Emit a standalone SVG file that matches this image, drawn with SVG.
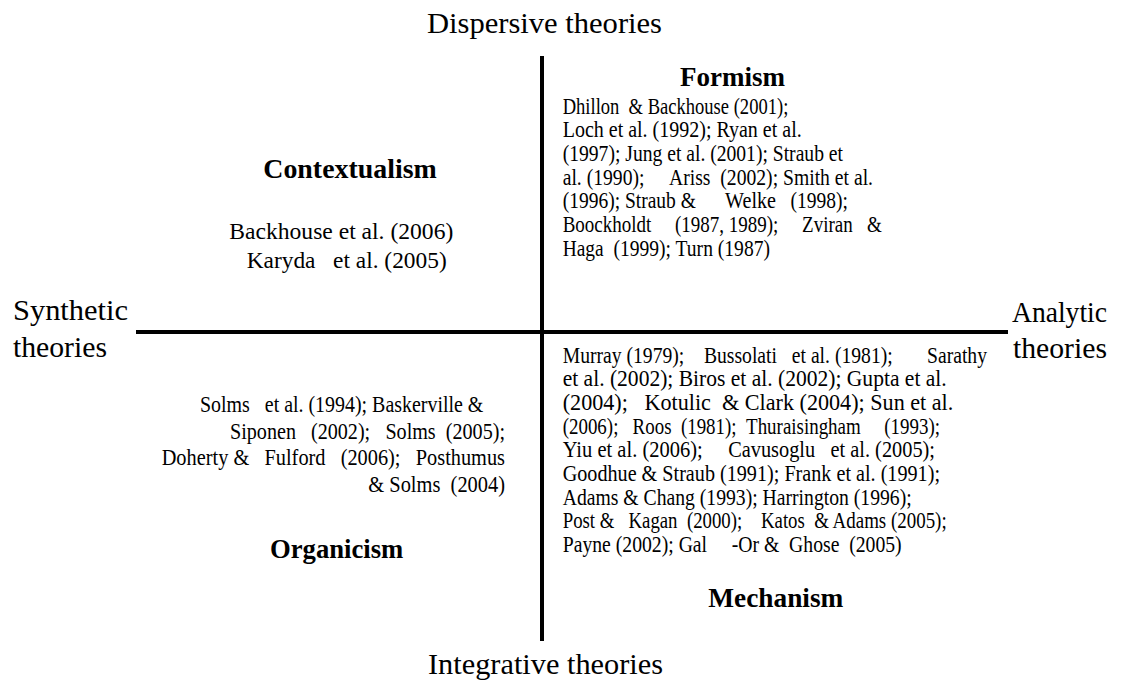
<svg xmlns="http://www.w3.org/2000/svg" width="1122" height="683" viewBox="0 0 1122 683">
  <style>
    text { font-family: "Liberation Serif", "Times New Roman", serif; fill: #000; }
    .axis { font-size: 30px; }
    .title { font-size: 28px; font-weight: bold; }
    .cite { font-size: 23px; }
    .cite-l { font-size: 24px; }
    .rule { stroke: #000; stroke-width: 4; fill: none; }
  </style>
  <rect x="0" y="0" width="1122" height="683" fill="#fff"/>

  <!-- axes -->
  <g id="connectors">
    <line class="rule" x1="542" y1="56" x2="542" y2="641"/>
    <line class="rule" x1="136" y1="332" x2="1008" y2="332"/>
  </g>

  <!-- axis labels -->
  <g id="label-dispersive">
    <text class="axis" x="427" y="33" textLength="235" lengthAdjust="spacingAndGlyphs">Dispersive theories</text>
  </g>
  <g id="label-integrative">
    <text class="axis" x="428" y="674" textLength="235" lengthAdjust="spacingAndGlyphs">Integrative theories</text>
  </g>
  <g id="label-synthetic">
    <text class="axis" x="13" y="320" textLength="115" lengthAdjust="spacingAndGlyphs">Synthetic</text>
    <text class="axis" x="13" y="357" textLength="94" lengthAdjust="spacingAndGlyphs">theories</text>
  </g>
  <g id="label-analytic">
    <text class="axis" x="1012" y="322" textLength="95" lengthAdjust="spacingAndGlyphs">Analytic</text>
    <text class="axis" x="1013" y="358" textLength="94" lengthAdjust="spacingAndGlyphs">theories</text>
  </g>

  <!-- top-right quadrant: justified citation lines, one text per word run -->
  <g id="formism">
    <text class="title" x="680" y="86" textLength="105" lengthAdjust="spacingAndGlyphs">Formism</text>
    <text class="cite" x="562.7" y="113.5" textLength="56.7" lengthAdjust="spacingAndGlyphs">Dhillon</text>
    <text class="cite" x="628.6" y="113.5" textLength="159.7" lengthAdjust="spacingAndGlyphs">&amp; Backhouse (2001);</text>
    <text class="cite" x="562.7" y="137.2" textLength="239" lengthAdjust="spacingAndGlyphs">Loch et al. (1992); Ryan et al.</text>
    <text class="cite" x="562.7" y="160.9" textLength="280.3" lengthAdjust="spacingAndGlyphs">(1997); Jung et al. (2001); Straub et</text>
    <text class="cite" x="562.7" y="184.6" textLength="81.8" lengthAdjust="spacingAndGlyphs">al. (1990);</text>
    <text class="cite" x="669" y="184.6" textLength="41.4" lengthAdjust="spacingAndGlyphs">Ariss</text>
    <text class="cite" x="720.3" y="184.6" textLength="152.7" lengthAdjust="spacingAndGlyphs">(2002); Smith et al.</text>
    <text class="cite" x="562.7" y="208.3" textLength="133.2" lengthAdjust="spacingAndGlyphs">(1996); Straub &amp;</text>
    <text class="cite" x="725.1" y="208.3" textLength="50.9" lengthAdjust="spacingAndGlyphs">Welke</text>
    <text class="cite" x="790.6" y="208.3" textLength="57.4" lengthAdjust="spacingAndGlyphs">(1998);</text>
    <text class="cite" x="562.7" y="232" textLength="88.6" lengthAdjust="spacingAndGlyphs">Boockholdt</text>
    <text class="cite" x="675" y="232" textLength="103.3" lengthAdjust="spacingAndGlyphs">(1987, 1989);</text>
    <text class="cite" x="802.1" y="232" textLength="50.6" lengthAdjust="spacingAndGlyphs">Zviran</text>
    <text class="cite" x="866.9" y="232" textLength="14.8" lengthAdjust="spacingAndGlyphs">&amp;</text>
    <text class="cite" x="562.7" y="255.7" textLength="41" lengthAdjust="spacingAndGlyphs">Haga</text>
    <text class="cite" x="613.4" y="255.7" textLength="156.6" lengthAdjust="spacingAndGlyphs">(1999); Turn (1987)</text>
  </g>

  <!-- top-left quadrant -->
  <g id="contextualism">
    <text class="title" x="263.3" y="178" textLength="173.4" lengthAdjust="spacingAndGlyphs">Contextualism</text>
    <text class="cite-l" x="229.3" y="239" textLength="224" lengthAdjust="spacingAndGlyphs">Backhouse et al. (2006)</text>
    <text class="cite-l" x="246.7" y="267.5" textLength="68.8" lengthAdjust="spacingAndGlyphs">Karyda</text>
    <text class="cite-l" x="333.1" y="267.5" textLength="113.6" lengthAdjust="spacingAndGlyphs">et al. (2005)</text>
  </g>

  <!-- bottom-left quadrant -->
  <g id="organicism">
    <text class="cite-l" x="200" y="412" textLength="49.8" lengthAdjust="spacingAndGlyphs">Solms</text>
    <text class="cite-l" x="264.8" y="412" textLength="218.5" lengthAdjust="spacingAndGlyphs">et al. (1994); Baskerville &amp;</text>
    <text class="cite-l" x="230" y="438.7" textLength="66" lengthAdjust="spacingAndGlyphs">Siponen</text>
    <text class="cite-l" x="311" y="438.7" textLength="59.2" lengthAdjust="spacingAndGlyphs">(2002);</text>
    <text class="cite-l" x="385.4" y="438.7" textLength="50.3" lengthAdjust="spacingAndGlyphs">Solms</text>
    <text class="cite-l" x="445.8" y="438.7" textLength="59.2" lengthAdjust="spacingAndGlyphs">(2005);</text>
    <text class="cite-l" x="161.7" y="465.3" textLength="87.5" lengthAdjust="spacingAndGlyphs">Doherty &amp;</text>
    <text class="cite-l" x="264.5" y="465.3" textLength="61" lengthAdjust="spacingAndGlyphs">Fulford</text>
    <text class="cite-l" x="340.7" y="465.3" textLength="59.8" lengthAdjust="spacingAndGlyphs">(2006);</text>
    <text class="cite-l" x="415.8" y="465.3" textLength="89.2" lengthAdjust="spacingAndGlyphs">Posthumus</text>
    <text class="cite-l" x="368.3" y="492" textLength="72.1" lengthAdjust="spacingAndGlyphs">&amp; Solms</text>
    <text class="cite-l" x="450.6" y="492" textLength="54.4" lengthAdjust="spacingAndGlyphs">(2004)</text>
    <text class="title" x="270" y="558" textLength="133.3" lengthAdjust="spacingAndGlyphs">Organicism</text>
  </g>

  <!-- bottom-right quadrant -->
  <g id="mechanism">
    <text class="cite" x="562.7" y="362.5" textLength="121.6" lengthAdjust="spacingAndGlyphs">Murray (1979);</text>
    <text class="cite" x="703.9" y="362.5" textLength="73.1" lengthAdjust="spacingAndGlyphs">Bussolati</text>
    <text class="cite" x="791.8" y="362.5" textLength="100.9" lengthAdjust="spacingAndGlyphs">et al. (1981);</text>
    <text class="cite" x="927" y="362.5" textLength="60" lengthAdjust="spacingAndGlyphs">Sarathy</text>
    <text class="cite" x="562.7" y="386.2" textLength="384" lengthAdjust="spacingAndGlyphs">et al. (2002); Biros et al. (2002); Gupta et al.</text>
    <text class="cite" x="562.7" y="409.9" textLength="65.2" lengthAdjust="spacingAndGlyphs">(2004);</text>
    <text class="cite" x="644.5" y="409.9" textLength="66.4" lengthAdjust="spacingAndGlyphs">Kotulic</text>
    <text class="cite" x="722" y="409.9" textLength="231.3" lengthAdjust="spacingAndGlyphs">&amp; Clark (2004); Sun et al.</text>
    <text class="cite" x="562.7" y="433.6" textLength="55.7" lengthAdjust="spacingAndGlyphs">(2006);</text>
    <text class="cite" x="632.6" y="433.6" textLength="38.9" lengthAdjust="spacingAndGlyphs">Roos</text>
    <text class="cite" x="680.9" y="433.6" textLength="55.7" lengthAdjust="spacingAndGlyphs">(1981);</text>
    <text class="cite" x="746.1" y="433.6" textLength="114.6" lengthAdjust="spacingAndGlyphs">Thuraisingham</text>
    <text class="cite" x="884.3" y="433.6" textLength="55.7" lengthAdjust="spacingAndGlyphs">(1993);</text>
    <text class="cite" x="562.7" y="457.3" textLength="140.1" lengthAdjust="spacingAndGlyphs">Yiu et al. (2006);</text>
    <text class="cite" x="728.2" y="457.3" textLength="87" lengthAdjust="spacingAndGlyphs">Cavusoglu</text>
    <text class="cite" x="830.5" y="457.3" textLength="104.5" lengthAdjust="spacingAndGlyphs">et al. (2005);</text>
    <text class="cite" x="562.7" y="481" textLength="377.3" lengthAdjust="spacingAndGlyphs">Goodhue &amp; Straub (1991); Frank et al. (1991);</text>
    <text class="cite" x="562.7" y="504.7" textLength="349" lengthAdjust="spacingAndGlyphs">Adams &amp; Chang (1993); Harrington (1996);</text>
    <text class="cite" x="562.7" y="528.4" textLength="51.7" lengthAdjust="spacingAndGlyphs">Post &amp;</text>
    <text class="cite" x="628.5" y="528.4" textLength="49" lengthAdjust="spacingAndGlyphs">Kagan</text>
    <text class="cite" x="686.9" y="528.4" textLength="55.3" lengthAdjust="spacingAndGlyphs">(2000);</text>
    <text class="cite" x="761" y="528.4" textLength="43.8" lengthAdjust="spacingAndGlyphs">Katos</text>
    <text class="cite" x="814.2" y="528.4" textLength="132.5" lengthAdjust="spacingAndGlyphs">&amp; Adams (2005);</text>
    <text class="cite" x="562.7" y="552.1" textLength="144.4" lengthAdjust="spacingAndGlyphs">Payne (2002); Gal</text>
    <text class="cite" x="731.7" y="552.1" textLength="47.6" lengthAdjust="spacingAndGlyphs">-Or &amp;</text>
    <text class="cite" x="789.1" y="552.1" textLength="50.3" lengthAdjust="spacingAndGlyphs">Ghose</text>
    <text class="cite" x="849.2" y="552.1" textLength="52.5" lengthAdjust="spacingAndGlyphs">(2005)</text>
    <text class="title" x="708.3" y="607" textLength="135" lengthAdjust="spacingAndGlyphs">Mechanism</text>
  </g>
</svg>
